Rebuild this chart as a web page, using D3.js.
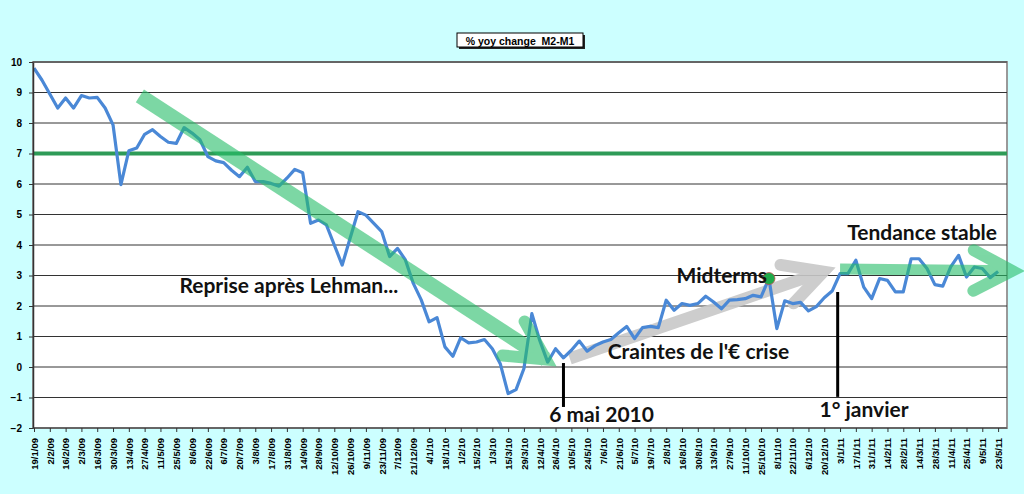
<!DOCTYPE html>
<html>
<head>
<meta charset="utf-8">
<script src="https://cdn.jsdelivr.net/npm/d3@7"></script>
<style>
  body { margin: 0; background: #ccffff; }
  svg { display: block; }
</style>
</head>
<body>
<svg id="chart"></svg>
<script>
// tick labels, one every two weeks
const weekLabels = ["19/1/09","2/2/09","16/2/09","2/3/09","16/3/09","30/3/09","13/4/09","27/4/09","11/5/09","25/5/09",
  "8/6/09","22/6/09","6/7/09","20/7/09","3/8/09","17/8/09","31/8/09","14/9/09","28/9/09","12/10/09",
  "26/10/09","9/11/09","23/11/09","7/12/09","21/12/09","4/1/10","18/1/10","1/2/10","15/2/10","1/3/10",
  "15/3/10","29/3/10","12/4/10","26/4/10","10/5/10","24/5/10","7/6/10","21/6/10","5/7/10","19/7/10",
  "2/8/10","16/8/10","30/8/10","13/9/10","27/9/10","11/10/10","25/10/10","8/11/10","22/11/10","6/12/10",
  "20/12/10","3/1/11","17/1/11","31/1/11","14/2/11","28/2/11","14/3/11","28/3/11","11/4/11","25/4/11",
  "9/5/11","23/5/11"];

// weekly % yoy change M2-M1
const m2m1 = [9.80,9.41,8.95,8.49,8.82,8.49,8.90,8.82,8.84,8.49,
  7.94,5.98,7.09,7.18,7.63,7.78,7.56,7.37,7.33,7.85,
  7.67,7.45,6.90,6.76,6.70,6.45,6.24,6.55,6.08,6.08,
  6.02,5.93,6.19,6.48,6.37,4.71,4.82,4.66,4.00,3.34,
  4.22,5.09,4.98,4.71,4.44,3.62,3.89,3.51,2.74,2.20,
  1.48,1.62,0.66,0.35,0.96,0.79,0.82,0.90,0.60,0.11,
  -0.87,-0.74,-0.05,1.75,0.87,0.16,0.60,0.30,0.55,0.85,
  0.52,0.70,0.82,0.90,1.12,1.33,0.93,1.29,1.33,1.29,
  2.19,1.86,2.08,2.02,2.08,2.32,2.13,1.91,2.19,2.21,
  2.24,2.35,2.30,2.90,1.26,2.17,2.08,2.12,1.84,1.98,
  2.27,2.49,3.06,3.06,3.50,2.62,2.24,2.90,2.84,2.46,
  2.46,3.55,3.55,3.23,2.70,2.65,3.28,3.66,2.95,3.28,
  3.23,2.93,3.13];

const yTicks = [-2,-1,0,1,2,3,4,5,6,7,8,9,10];
const referenceLevel = 7;
const midtermsWeek = 93;

// annotations, in [week index, value]
const arrows = [
  { from: [13.4, 8.89], to: [65.3, 0.16], color: "#26be69", width: 15, top: true },
  { from: [67.8, 0.28], to: [100.5, 3.18], color: "#c8c8c8", width: 12, top: false },
  { from: [102, 3.21], to: [124.4, 3.15], color: "#26be69", width: 11, top: true }
];
const notes = [
  { text: "Reprise après Lehman...", at: [18.4, 2.44] },
  { text: "Midterms", at: [81.3, 2.76] },
  { text: "Craintes de l'€ crise", at: [72.6, 0.25] },
  { text: "Tendance stable", at: [102.9, 4.16] },
  { text: "6 mai 2010", at: [65.2, -1.79] },
  { text: "1° janvier", at: [99.4, -1.63] }
];
const markers = [
  { week: 67.0, y0: 0.13, y1: -1.31 },
  { week: 101.7, y0: 2.46, y1: -0.98 }
];

const W = 1024, H = 494;
const plot = { left: 33, right: 1007, top: 62, bottom: 428 };

const svg = d3.select("#chart").attr("width", W).attr("height", H);

const x = d3.scaleLinear().domain([0, 123]).range([34, 1006]);
const y = d3.scaleLinear().domain([-2, 10]).range([plot.bottom, plot.top]);

// plot area
svg.append("rect")
  .attr("x", plot.left).attr("y", plot.top)
  .attr("width", plot.right - plot.left).attr("height", plot.bottom - plot.top)
  .attr("fill", "#fff").attr("stroke", "#999").attr("stroke-width", 2);

// gridlines
svg.append("g").selectAll("line")
  .data(yTicks.filter(d => d > -2))
  .enter().append("line")
    .attr("x1", plot.left).attr("x2", plot.right)
    .attr("y1", d => y(d)).attr("y2", d => y(d))
    .attr("stroke", "#333").attr("stroke-width", 1);

// 7% reference line
svg.append("line")
  .attr("x1", plot.left).attr("x2", plot.right)
  .attr("y1", y(referenceLevel)).attr("y2", y(referenceLevel))
  .attr("stroke", "#2e9b57").attr("stroke-width", 4);

function drawArrow(a) {
  const x0 = x(a.from[0]), y0 = y(a.from[1]);
  const x1 = x(a.to[0]), y1 = y(a.to[1]);
  const back = Math.atan2(y0 - y1, x0 - x1);
  const len = 48, spread = 25 * Math.PI / 180;
  const arm = s => [x1 + len * Math.cos(back + s), y1 + len * Math.sin(back + s)];
  const tipIn = [x1 + 5 * Math.cos(back), y1 + 5 * Math.sin(back)];
  const g = svg.append("g").attr("opacity", a.top ? 0.6 : 0.9);
  g.append("line")
    .attr("x1", x0).attr("y1", y0).attr("x2", tipIn[0]).attr("y2", tipIn[1])
    .attr("stroke", a.color).attr("stroke-width", a.width);
  g.append("path")
    .attr("d", d3.line()([arm(spread), tipIn, arm(-spread)]))
    .attr("fill", "none").attr("stroke", a.color).attr("stroke-width", 12)
    .attr("stroke-linejoin", "miter").attr("stroke-linecap", "round");
}

arrows.filter(a => !a.top).forEach(drawArrow);

// series
svg.append("path")
  .datum(m2m1)
  .attr("d", d3.line().x((d, i) => x(i)).y(d => y(d)))
  .attr("fill", "none").attr("stroke", "#4a88d6").attr("stroke-width", 3.2)
  .attr("stroke-linejoin", "round");

arrows.filter(a => a.top).forEach(drawArrow);

// midterms point
svg.append("circle")
  .attr("cx", x(midtermsWeek)).attr("cy", y(m2m1[midtermsWeek]))
  .attr("r", 6).attr("fill", "#1faa4a").attr("stroke", "#c0504d").attr("stroke-width", 0.8);

// event markers
svg.append("g").selectAll("line")
  .data(markers)
  .enter().append("line")
    .attr("x1", d => x(d.week)).attr("x2", d => x(d.week))
    .attr("y1", d => y(d.y0)).attr("y2", d => y(d.y1))
    .attr("stroke", "#000").attr("stroke-width", 3);

// axes
const xAxisG = svg.append("g")
  .attr("transform", `translate(0,${plot.bottom})`)
  .call(d3.axisBottom(x)
    .tickValues(d3.range(0, 123, 2))
    .tickFormat((d, i) => weekLabels[i])
    .tickSize(4).tickSizeOuter(0));
xAxisG.select(".domain").attr("stroke", "#666").attr("stroke-width", 2)
  .attr("d", `M${plot.left},0H${plot.right}`);
xAxisG.selectAll(".tick line").attr("stroke", "#333");
xAxisG.selectAll("text")
  .attr("transform", "rotate(-90)")
  .attr("x", -10).attr("y", 0).attr("dy", "0.35em")
  .style("text-anchor", "end")
  .style("font", "bold 9.5px 'Liberation Sans', Arial, sans-serif")
  .attr("fill", "#000");

const yAxisG = svg.append("g")
  .attr("transform", `translate(${plot.left},0)`)
  .call(d3.axisLeft(y).tickValues(yTicks).tickSize(4).tickSizeOuter(0).tickPadding(7));
yAxisG.select(".domain").attr("stroke", "#333").attr("stroke-width", 1.5);
yAxisG.selectAll(".tick line").attr("stroke", "#333");
yAxisG.selectAll("text")
  .style("font", "bold 10px 'Liberation Sans', Arial, sans-serif")
  .attr("fill", "#000");

// annotations text
svg.append("g").selectAll("text")
  .data(notes)
  .enter().append("text")
    .attr("x", d => x(d.at[0])).attr("y", d => y(d.at[1]))
    .style("font", "bold 21px Lato, 'Open Sans', sans-serif")
    .attr("fill", "#111")
    .text(d => d.text);

// title box
svg.append("rect")
  .attr("x", 459).attr("y", 35).attr("width", 126).attr("height", 14)
  .attr("fill", "#222");
svg.append("rect")
  .attr("x", 457).attr("y", 33).attr("width", 126).attr("height", 14)
  .attr("fill", "#fff").attr("stroke", "#000").attr("stroke-width", 1);
svg.append("text")
  .attr("x", 520).attr("y", 44.5)
  .attr("text-anchor", "middle")
  .style("font", "bold 10.5px 'Liberation Sans', Arial, sans-serif")
  .style("white-space", "pre")
  .attr("fill", "#000")
  .text("% yoy change  M2-M1");
</script>
</body>
</html>
